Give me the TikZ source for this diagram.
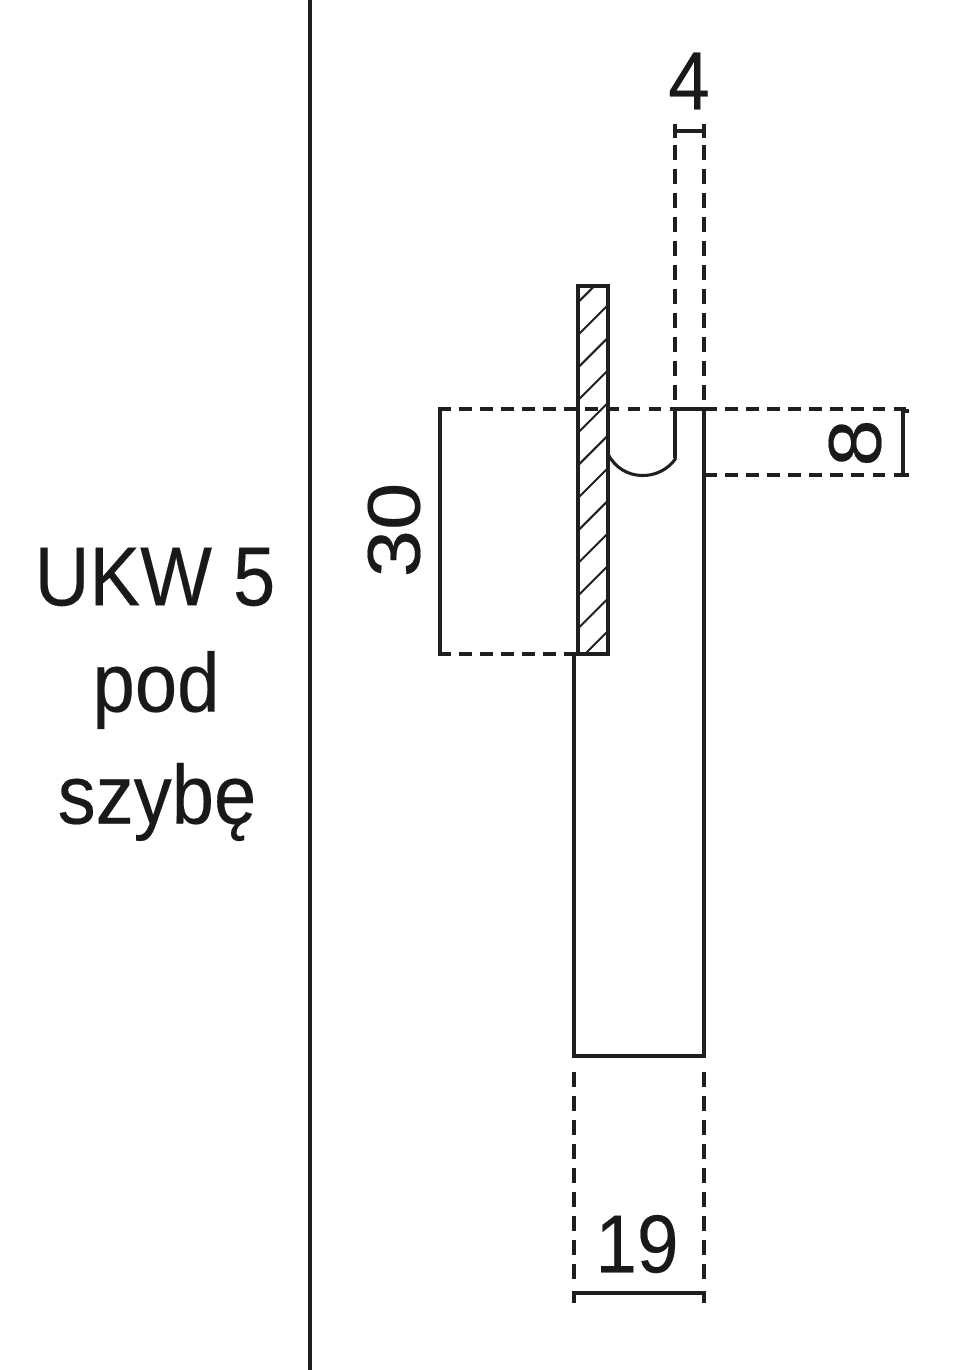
\documentclass[tikz,border=0pt]{standalone}
\usepackage{fontspec}
\setmainfont[FakeBold=0.25]{Liberation Sans}
\newcommand{\uprt}[1]{\scalebox{1}[1.1]{#1}}
\newcommand{\sidew}[1]{\scalebox{1.14}[1]{#1}}
\tikzset{
  x=0.75pt,y=-0.75pt,
  thinline/.style={draw=black!88,line width=2.3pt},
  hdash/.style={draw=black!88,line width=2.3pt,dash pattern=on 9.5pt off 6.3pt},
  vdash/.style={draw=black!88,line width=2.3pt,dash pattern=on 11pt off 7pt},
  hatchline/.style={draw=black!88,line width=1.5pt},
  label/.style={inner sep=0pt,font=\fontsize{57}{68}\selectfont,text=black!90},
  digit/.style={inner sep=0pt,font=\fontsize{56}{67}\selectfont,text=black!90}
}
\begin{document}
\begin{tikzpicture}
\useasboundingbox (0,0) rectangle (959,1370);
% Divider
\coordinate (divTop) at (310,0);
\coordinate (divBot) at (310,1370);
\draw[thinline] (divTop) -- (divBot);
% Left labels
\node[label] (lblA) at (155,577) {\uprt{UKW 5}};
\node[label] (lblB) at (156,690) {\uprt{pod}};
\node[label] (lblC) at (157,802) {\uprt{szybę}};
% Hatching
\begin{scope}
\clip (578,286) rectangle (608,654);
\foreach \k in {-1,...,11}{
  \draw[hatchline] (608,{305+32.6*\k}) -- (578,{335+32.6*\k});
}
\end{scope}
\draw[thinline] (578,286) rectangle (608,654);
% Body
\draw[thinline] (574,654) -- (574,1056) -- (704,1056) -- (704,409) -- (675,409);
\draw[thinline] (675,409) -- (675,458);
\draw[thinline] (608,454) .. controls (622,482) and (660,482) .. (676,458);
\draw[thinline] (564,654) -- (578,654);
% Dashed extension lines
\draw[hdash] (438,409) -- (675,409);
\draw[hdash] (704,409) -- (908,409);
\draw[hdash] (704,475) -- (908,475);
\draw[hdash] (438,654) -- (566,654);
\draw[vdash] (675,145) -- (675,409);
\draw[vdash] (704,145) -- (704,409);
\draw[vdash] (574,1072) -- (574,1288);
\draw[vdash] (704,1072) -- (704,1288);
% Dimension 30
\draw[thinline] (440,409) -- (440,654);
\node[digit,rotate=90] (dimC) at (394,530) {\sidew{30}};
% Dimension 8
\draw[thinline] (909,411) -- (903,411) -- (903,475) -- (909,475);
\node[digit,rotate=90] (dimD) at (855,443) {\sidew{8}};
% Dimension 4
\draw[thinline] (675,124) -- (675,138);
\draw[thinline] (704,124) -- (704,138);
\draw[thinline] (675,131) -- (704,131);
\node[digit] (dimA) at (689,81) {\uprt{4}};
% Dimension 19
\draw[thinline] (574,1303) -- (574,1293) -- (704,1293) -- (704,1303);
\node[digit] (dimB) at (637,1244) {\uprt{19}};
\end{tikzpicture}
\end{document}
